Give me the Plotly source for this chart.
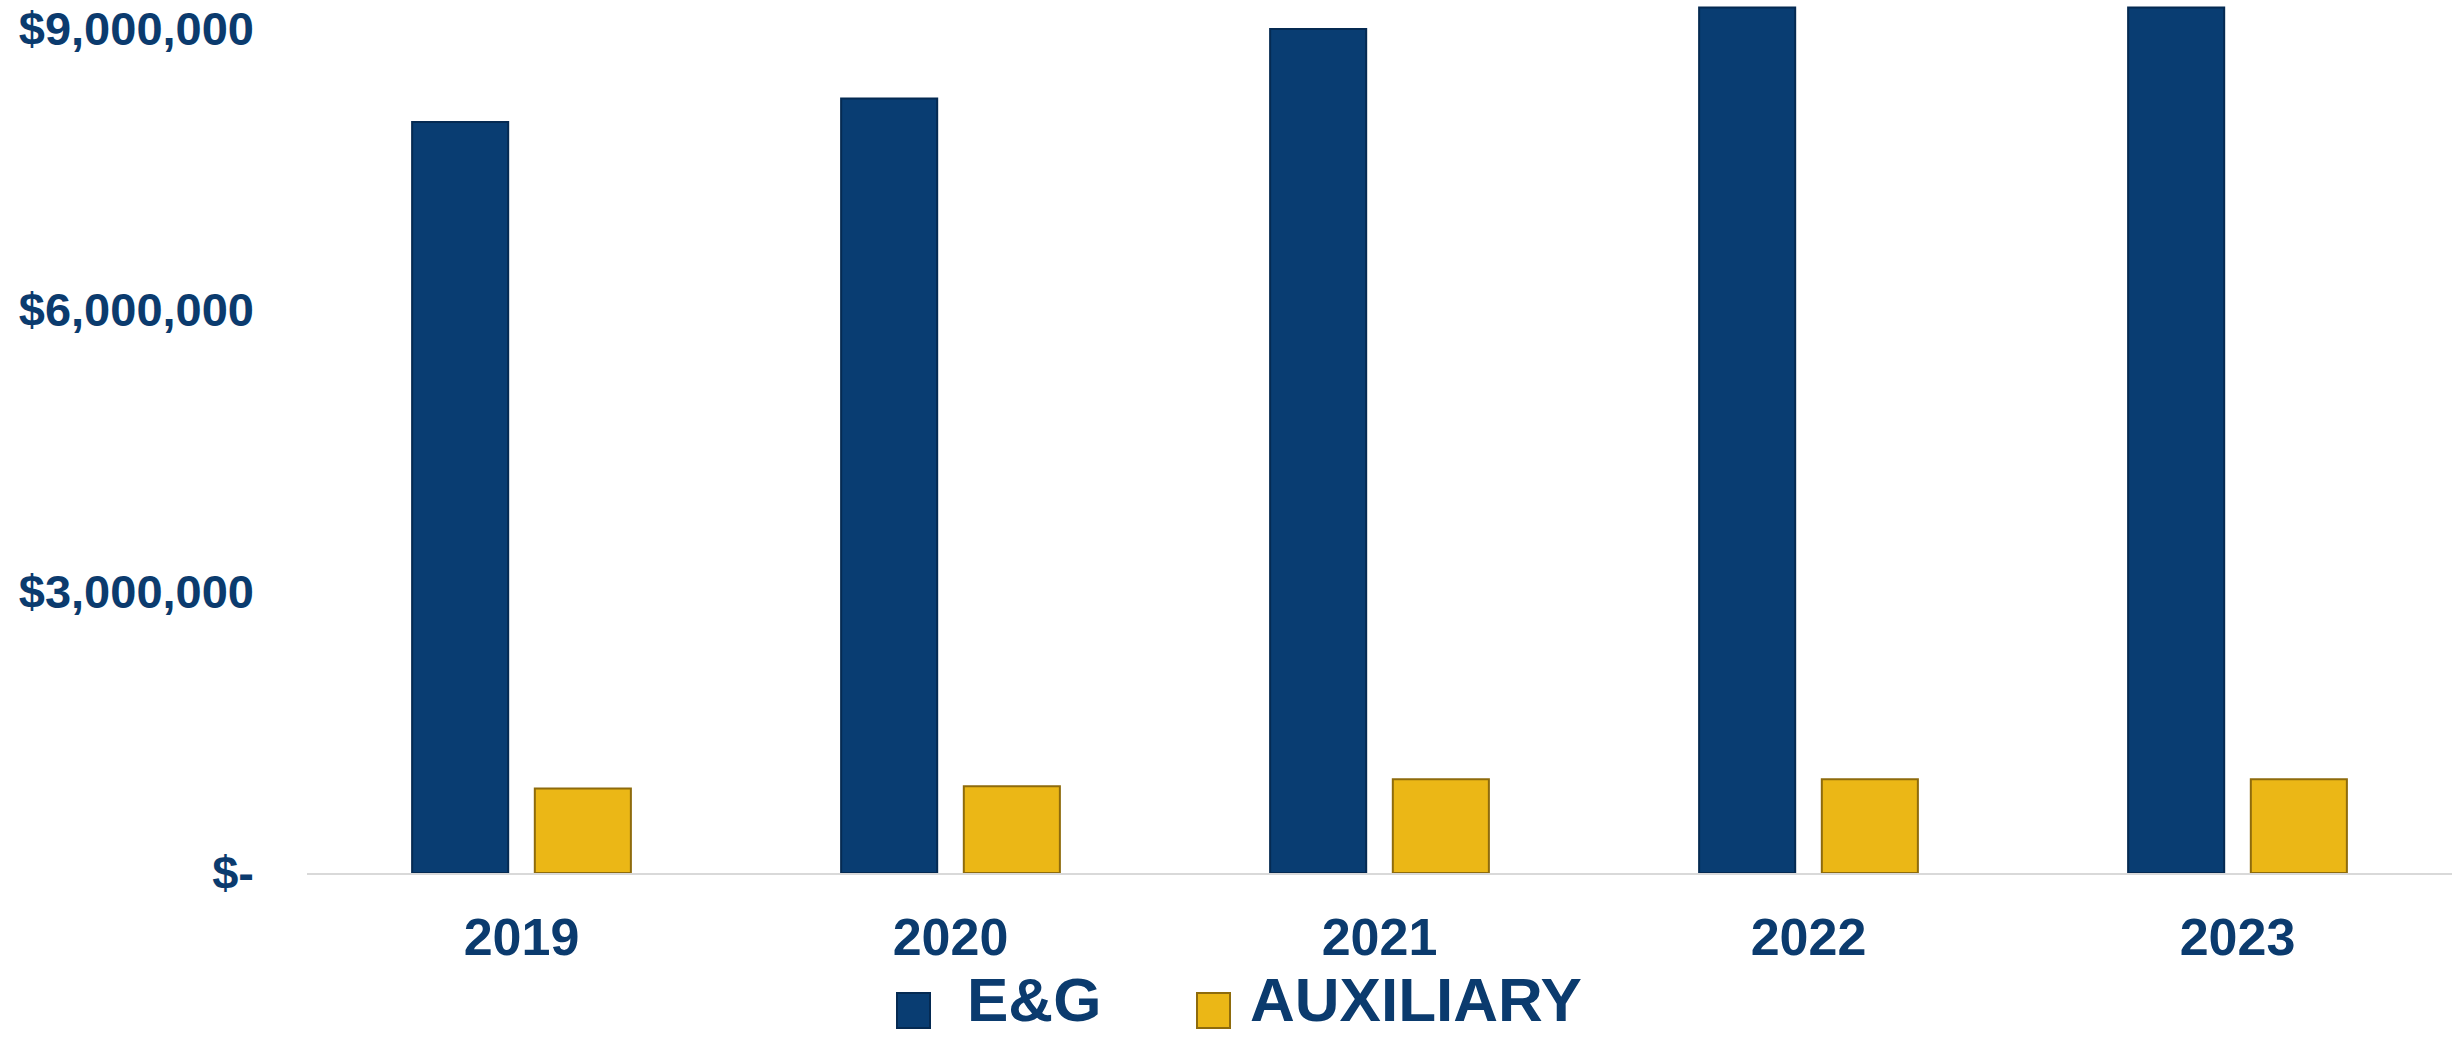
import plotly.graph_objects as go

years = ["2019", "2020", "2021", "2022", "2023"]
eg_values = [8.0e6, 8.25e6, 8.99e6, 9.22e6, 9.22e6]
aux_values = [0.90e6, 0.925e6, 1.0e6, 1.0e6, 1.0e6]
y_tickvals = [0, 3e6, 6e6, 9e6]
y_ticktext = ["$-", "$3,000,000", "$6,000,000", "$9,000,000"]
series_names = ["E&G", "AUXILIARY"]

W, H = 2458, 1037
ML, MR, MT, MB = 307, 6, 0, 164
TEXT = "#0B3B6E"
NAVY = "#093D72"
GOLD = "#EBB716"
FONT = "Liberation Sans, Arial, sans-serif"

def px_x(px):
    return (px - ML) / (W - ML - MR)

def px_y(py):
    return (H - MB - py) / (H - MT - MB)

fig = go.Figure()
fig.add_trace(go.Bar(x=years, y=eg_values, name=series_names[0],
                     marker=dict(color=NAVY, line=dict(color="#052A52", width=2)),
                     showlegend=False))
fig.add_trace(go.Bar(x=years, y=aux_values, name=series_names[1],
                     marker=dict(color=GOLD, line=dict(color="#8E6B0C", width=2)),
                     showlegend=False))

# legend (drawn manually so swatches match the reference size)
legend_items = [
    (series_names[0], NAVY, "#052A52", 897, 930, 965),
    (series_names[1], GOLD, "#8E6B0C", 1197, 1230, 1248),
]
shapes = []
annotations = []
for name, fill, edge, x0, x1, tx in legend_items:
    shapes.append(dict(type="rect", xref="paper", yref="paper",
                       x0=px_x(x0), x1=px_x(x1), y0=px_y(1028), y1=px_y(993),
                       fillcolor=fill, line=dict(color=edge, width=2)))
    annotations.append(dict(text=name, xref="paper", yref="paper",
                            x=px_x(tx), y=px_y(1036), xanchor="left", yanchor="bottom",
                            showarrow=False,
                            font=dict(family=FONT, size=62, color=TEXT, weight=700)))

fig.update_layout(
    width=W, height=H,
    margin=dict(l=ML, r=MR, t=MT, b=MB, autoexpand=False),
    paper_bgcolor="white", plot_bgcolor="white",
    barmode="group", bargap=0.428, bargroupgap=0.217,
    showlegend=False,
    shapes=shapes, annotations=annotations,
    xaxis=dict(showline=True, linecolor="#D9D9D9", linewidth=2, showgrid=False,
               ticks="", ticklabelstandoff=18,
               tickfont=dict(family=FONT, size=52, color=TEXT, weight=700)),
    yaxis=dict(range=[0, 9.3e6], showline=False, showgrid=False, zeroline=False,
               tickvals=y_tickvals, ticktext=y_ticktext, ticks="",
               ticklabelstandoff=52,
               tickfont=dict(family=FONT, size=47, color=TEXT, weight=700)),
)

fig.write_html("out.html")
